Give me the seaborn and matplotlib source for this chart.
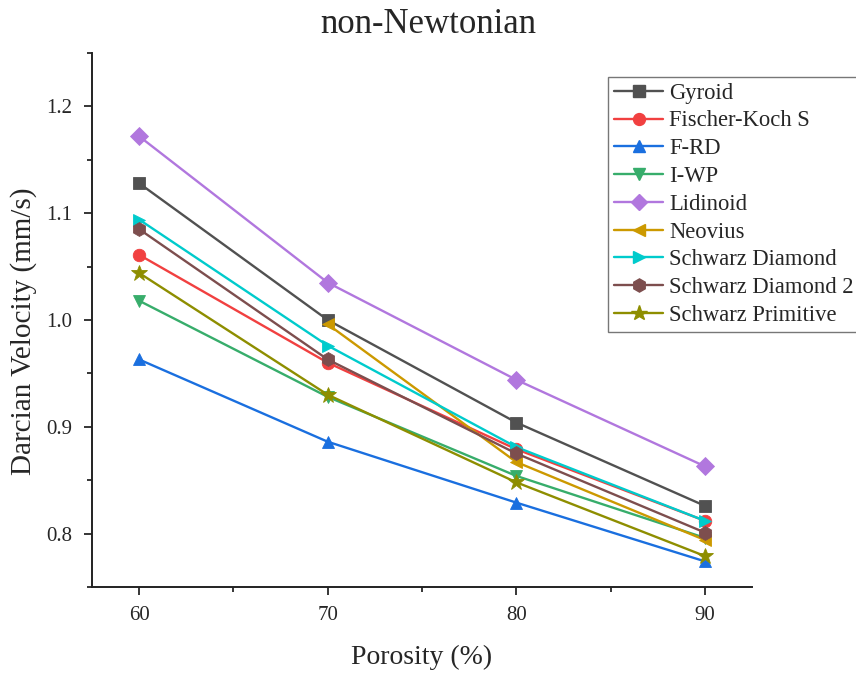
import numpy as np
import pandas as pd
import matplotlib
matplotlib.use("Agg")
import matplotlib.pyplot as plt
import seaborn as sns
from matplotlib.ticker import MultipleLocator
from matplotlib.lines import Line2D

porosity = [60, 70, 80, 90]
names = ["Gyroid", "Fischer-Koch S", "F-RD", "I-WP", "Lidinoid", "Neovius",
         "Schwarz Diamond", "Schwarz Diamond 2", "Schwarz Primitive"]
gyroid = [1.128, 1.000, 0.904, 0.826]
fischer_koch = [1.061, 0.960, 0.879, 0.812]
frd = [0.963, 0.886, 0.829, 0.774]
iwp = [1.018, 0.928, 0.854, 0.796]
lidinoid = [1.172, 1.035, 0.944, 0.863]
neovius = [np.nan, 0.996, 0.867, 0.794]
schwarz_d = [1.094, 0.976, 0.881, 0.812]
schwarz_d2 = [1.085, 0.963, 0.875, 0.801]
schwarz_p = [1.044, 0.930, 0.848, 0.779]
series = [gyroid, fischer_koch, frd, iwp, lidinoid, neovius, schwarz_d, schwarz_d2, schwarz_p]

colors = ["#515151", "#F14040", "#1A6FDF", "#37AD6B", "#B177DE", "#CC9900",
          "#00CBCC", "#7D4E4E", "#8E8E00"]
markers = ["s", "o", "^", "v", "D", "<", ">", "h", "*"]
msizes = [8.5, 9, 9, 9, 9, 9, 9, 10, 12]

rows = []
for n, vals in zip(names, series):
    for p, v in zip(porosity, vals):
        rows.append({"Porosity": p, "Velocity": v, "Structure": n})
df = pd.DataFrame(rows)

sns.set_style("ticks")
plt.rcParams["font.family"] = ["Liberation Serif", "DejaVu Serif"]

fig = plt.figure(figsize=(8.56, 6.75), dpi=100)
ax = fig.add_axes([0.1075, 0.1304, 0.771, 0.7911])

for n, c, m, ms in zip(names, colors, markers, msizes):
    sub = df[(df["Structure"] == n)].dropna()
    sns.lineplot(data=sub, x="Porosity", y="Velocity", color=c, marker=m,
                 markersize=ms, markeredgecolor=c, markeredgewidth=0.6,
                 linewidth=1.7, ax=ax, legend=False)

ax.set_xlim(57.5, 92.5)
ax.set_ylim(0.75, 1.25)
ax.xaxis.set_major_locator(MultipleLocator(10))
ax.xaxis.set_minor_locator(MultipleLocator(5))
ax.yaxis.set_major_locator(MultipleLocator(0.1))
ax.yaxis.set_minor_locator(MultipleLocator(0.05))
ax.yaxis.set_major_formatter(matplotlib.ticker.FormatStrFormatter("%.1f"))
ax.tick_params(axis="both", which="major", length=6, width=1.3, labelsize=15,
               direction="out", pad=8)
ax.tick_params(axis="both", which="minor", length=3.5, width=1.3, direction="out")
for s in ["top", "right"]:
    ax.spines[s].set_visible(False)
for s in ["left", "bottom"]:
    ax.spines[s].set_linewidth(1.4)
    ax.spines[s].set_color("#222222")

ax.set_xlabel("Porosity (%)", fontsize=20, labelpad=14)
ax.set_ylabel("Darcian Velocity (mm/s)", fontsize=21)
ax.yaxis.set_label_coords(-0.083, 0.479)
fig.suptitle("non-Newtonian", fontsize=25, y=0.988)

handles = [Line2D([0], [0], color=c, marker=m, markersize=ms * 0.95, markeredgecolor=c,
                  linewidth=1.7) for c, m, ms in zip(colors, markers, msizes)]
leg = fig.legend(handles, names, loc="upper left", bbox_to_anchor=(608 / 856, 1 - 77 / 675),
                 fontsize=16.3, frameon=True, fancybox=False, edgecolor="#555555",
                 handlelength=2.2, handletextpad=0.25, labelspacing=0.3, borderpad=0.25,
                 borderaxespad=0)
leg.get_frame().set_linewidth(1.0)

fig.savefig("out.png", dpi=100)
